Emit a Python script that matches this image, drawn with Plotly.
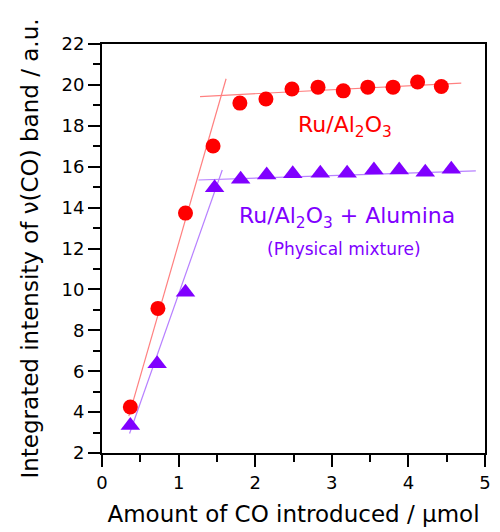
import plotly.graph_objects as go

# --- data ---
ru_x = [0.37, 0.73, 1.09, 1.45, 1.80, 2.14, 2.48, 2.82, 3.15, 3.47, 3.80, 4.12, 4.43]
ru_y = [4.25, 9.07, 13.73, 17.01, 19.11, 19.31, 19.80, 19.89, 19.71, 19.89, 19.89, 20.14, 19.92]

mix_x = [0.37, 0.72, 1.09, 1.47, 1.81, 2.15, 2.49, 2.85, 3.20, 3.55, 3.88, 4.22, 4.56]
mix_y = [3.35, 6.37, 9.86, 14.97, 15.39, 15.60, 15.66, 15.68, 15.68, 15.84, 15.84, 15.73, 15.88]

# fitted guide lines (endpoints)
ru_rise_x = [0.35, 1.62]
ru_rise_y = [3.8, 20.3]
ru_flat_x = [1.28, 4.69]
ru_flat_y = [19.43, 20.09]
mix_rise_x = [0.36, 1.57]
mix_rise_y = [2.95, 15.84]
mix_flat_x = [1.26, 4.88]
mix_flat_y = [15.35, 15.80]

x_ticks = [0, 1, 2, 3, 4, 5]
y_ticks = [2, 4, 6, 8, 10, 12, 14, 16, 18, 20, 22]

RED = "#ff0000"
PURPLE = "#8000ff"
RED_LINE = "#ff8080"
PURPLE_LINE = "#b780ff"
FONT = "DejaVu Sans"

fig = go.Figure()
for lx, ly, c in [(ru_rise_x, ru_rise_y, RED_LINE), (ru_flat_x, ru_flat_y, RED_LINE),
                  (mix_rise_x, mix_rise_y, PURPLE_LINE), (mix_flat_x, mix_flat_y, PURPLE_LINE)]:
    fig.add_trace(go.Scatter(x=lx, y=ly, mode="lines", line=dict(color=c, width=1.2),
                             showlegend=False, hoverinfo="skip"))

fig.add_trace(go.Scatter(x=ru_x, y=ru_y, mode="markers", name="Ru/Al2O3",
                         marker=dict(symbol="circle", size=15, color=RED, line=dict(width=0)),
                         showlegend=False))
fig.add_trace(go.Scatter(x=mix_x, y=mix_y, mode="markers", name="Ru/Al2O3 + Alumina",
                         marker=dict(symbol="triangle-up", size=17, color=PURPLE, line=dict(width=0)),
                         showlegend=False))

fig.add_annotation(x=3.17, y=17.95, text="Ru/Al<sub>2</sub>O<sub>3</sub>", showarrow=False,
                   font=dict(family=FONT, size=22, color=RED), xanchor="center", yanchor="middle")
fig.add_annotation(x=3.20, y=13.5, text="Ru/Al<sub>2</sub>O<sub>3</sub> + Alumina", showarrow=False,
                   font=dict(family=FONT, size=22, color=PURPLE), xanchor="center", yanchor="middle")
fig.add_annotation(x=3.16, y=11.97, text="(Physical mixture)", showarrow=False,
                   font=dict(family=FONT, size=17, color=PURPLE), xanchor="center", yanchor="middle")

axis_common = dict(showgrid=False, zeroline=False, showline=True, linecolor="black", linewidth=2,
                   mirror=True, ticks="outside", tickwidth=2, tickcolor="black", ticklen=12,
                   tickfont=dict(family=FONT, size=18, color="black"))

fig.update_xaxes(range=[0, 5], tickvals=x_ticks, ticktext=[str(v) for v in x_ticks],
                 minor=dict(dtick=0.5, tick0=0, ticks="outside", ticklen=7, tickwidth=2, tickcolor="black"),
                 title=dict(text="Amount of CO introduced / \u03bcmol",
                            font=dict(family=FONT, size=23, color="black"), standoff=14),
                 **axis_common)
fig.update_yaxes(range=[2, 22], tickvals=y_ticks, ticktext=[str(v) for v in y_ticks],
                 minor=dict(dtick=1, tick0=0, ticks="outside", ticklen=7, tickwidth=2, tickcolor="black"),
                 title=dict(text="Integrated intensity of \u03bd(CO) band / a.u.",
                            font=dict(family=FONT, size=23, color="black"), standoff=16),
                 **axis_common)

fig.update_layout(width=500, height=532, margin=dict(l=102, r=9, t=44, b=79),
                  paper_bgcolor="white", plot_bgcolor="white",
                  font=dict(family=FONT, color="black"))

fig.write_html("out.html")
